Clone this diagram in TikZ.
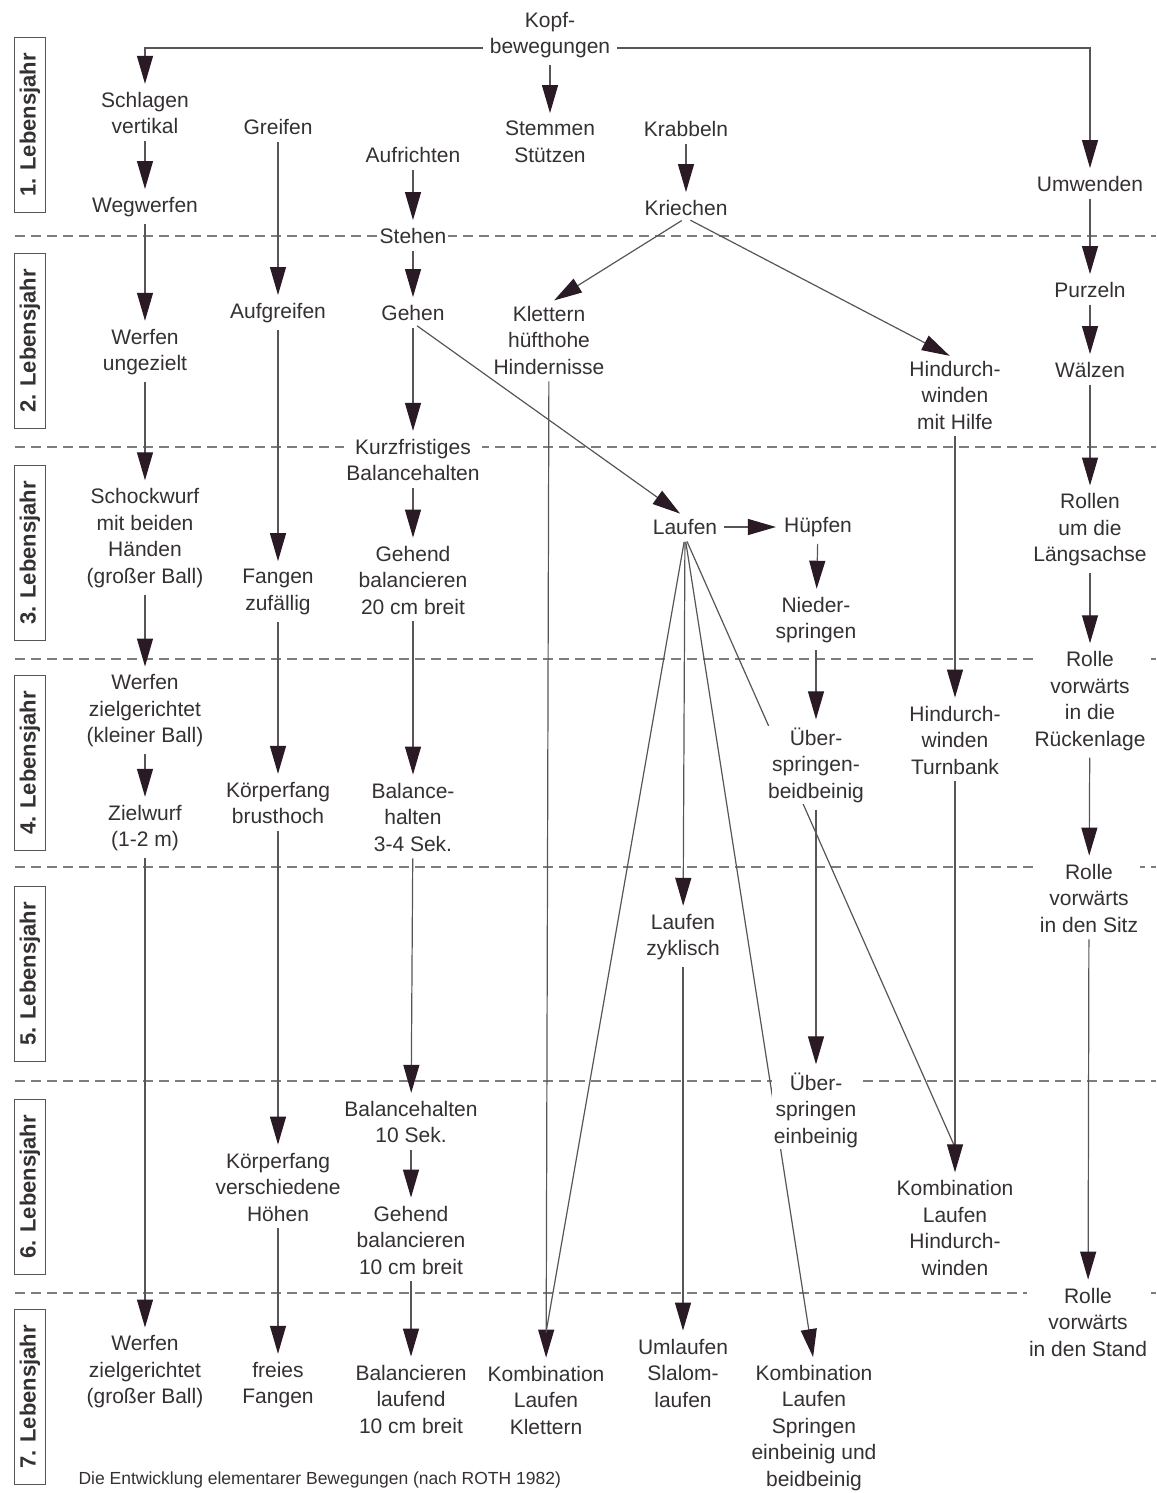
\documentclass[tikz,border=0pt]{standalone}
\usepackage{fontspec}
\setmainfont{Liberation Sans}
\usetikzlibrary{arrows.meta,backgrounds}

\definecolor{inkgray}{RGB}{52,48,52}
\definecolor{linegray}{RGB}{88,84,88}
\definecolor{headdark}{RGB}{42,26,38}
\definecolor{dashgray}{RGB}{125,125,125}

\newcommand{\movefont}{\fontsize{21}{26.5}\selectfont}

\tikzset{
    move/.style={align=center, font=\movefont, text=inkgray, fill=white, inner sep=2pt},
    yearbox/.style={draw=linegray, line width=1.3pt, rotate=90, minimum width=175pt,
        minimum height=31pt, inner sep=0pt, text=inkgray,
        font=\bfseries\fontsize{22}{26}\selectfont},
    devarrow/.style={draw=linegray, line width=1.2pt, shorten <=5pt, shorten >=6pt,
        -{Triangle[length=28pt,width=16pt,color=headdark]}},
    devline/.style={draw=linegray, line width=1.2pt, shorten <=5pt},
    yearline/.style={draw=dashgray, line width=1.2pt, dash pattern=on 10pt off 6pt},
}

\begin{document}
\begin{tikzpicture}[x=1pt, y=-1pt]
    \useasboundingbox (0,0) rectangle (1156,1493);

    \foreach \yr/\yy in {1/125,2/341,3/553,4/763,5/974,6/1187,7/1397}
        \node[yearbox] (year\yr) at (30,\yy) {\yr. Lebensjahr};

    \node[move] (kopf) at (550,35) {Kopf-\\bewegungen};

    \node[move] (schlagen) at (145,113) {Schlagen\\vertikal};
    \node[move] (wegwerfen) at (145,207) {Wegwerfen};
    \node[move] (werfenU) at (145,352) {Werfen\\ungezielt};
    \node[move] (schockwurf) at (145,538) {Schockwurf\\mit beiden\\Händen\\(großer Ball)};
    \node[move] (werfenZ) at (145,711) {Werfen\\zielgerichtet\\(kleiner Ball)};
    \node[move] (zielwurf) at (145,828) {Zielwurf\\(1-2 m)};
    \node[move] (werfenG) at (145,1372) {Werfen\\zielgerichtet\\(großer Ball)};

    \node[move] (greifen) at (278,127) {Greifen};
    \node[move] (aufgreifen) at (278,313) {Aufgreifen};
    \node[move] (fangen) at (278,592) {Fangen\\zufällig};
    \node[move] (koerperB) at (278,803) {Körperfang\\brusthoch};
    \node[move] (koerperV) at (278,1187) {Körperfang\\verschiedene\\Höhen};
    \node[move] (freies) at (278,1385) {freies\\Fangen};

    \node[move] (aufrichten) at (413,155) {Aufrichten};
    \node[move] (stehen) at (413,236) {Stehen};
    \node[move] (gehen) at (413,313) {Gehen};
    \node[move] (kurz) at (413,460) {Kurzfristiges\\Balancehalten};
    \node[move] (gehend20) at (413,580) {Gehend\\balancieren\\20 cm breit};
    \node[move] (balance34) at (413,817) {Balance-\\halten\\3-4 Sek.};
    \node[move] (balance10) at (411,1122) {Balancehalten\\10 Sek.};
    \node[move] (gehend10) at (411,1240) {Gehend\\balancieren\\10 cm breit};
    \node[move] (balLauf) at (411,1399) {Balancieren\\laufend\\10 cm breit};

    \node[move] (stemmen) at (550,142) {Stemmen\\Stützen};
    \node[move] (klettern) at (549,340) {Klettern\\hüfthohe\\Hindernisse};
    \node[move] (kombKlettern) at (546,1400) {Kombination\\Laufen\\Klettern};

    \node[move] (krabbeln) at (686,129) {Krabbeln};
    \node[move] (kriechen) at (686,208) {Kriechen};
    \node[move] (laufen) at (685,527) {Laufen};
    \node[move] (laufenZ) at (683,937) {Laufen\\zyklisch};
    \node[move] (umlaufen) at (683,1373) {Umlaufen\\Slalom-\\laufen};

    \node[move] (huepfen) at (818,527) {Hüpfen};
    \node[move] (nieder) at (816,620) {Nieder-\\springen};
    \node[move] (ueberB) at (816,765) {Über-\\springen-\\beidbeinig};
    \node[move] (ueberE) at (816,1110) {Über-\\springen\\einbeinig};
    \node[move] (kombSpringen) at (814,1428) {Kombination\\Laufen\\Springen\\einbeinig und\\beidbeinig};

    \node[move] (hindurchH) at (955,395) {Hindurch-\\winden\\mit Hilfe};
    \node[move] (hindurchT) at (955,740) {Hindurch-\\winden\\Turnbank};
    \node[move] (kombHindurch) at (955,1228) {Kombination\\Laufen\\Hindurch-\\winden};

    \node[move] (umwenden) at (1090,184) {Umwenden};
    \node[move] (purzeln) at (1090,290) {Purzeln};
    \node[move] (waelzen) at (1090,370) {Wälzen};
    \node[move] (rollen) at (1090,530) {Rollen\\um die\\Längsachse};
    \node[move] (rolleR) at (1090,701) {Rolle\\vorwärts\\in die\\Rückenlage};
    \node[move] (rolleS) at (1089,898) {Rolle\\vorwärts\\in den Sitz};
    \node[move] (rolleStand) at (1088,1322) {Rolle\\vorwärts\\in den Stand};

    \node[anchor=west, text=inkgray, font=\fontsize{17.5}{21}\selectfont] (caption) at (75,1480)
        {Die Entwicklung elementarer Bewegungen (nach ROTH 1982)};

    \begin{scope}[on background layer]
        \foreach \yy in {236,447,659,867,1081,1293}
            \draw[yearline] (15,\yy) -- (1156,\yy);

        \draw[devarrow] ([yshift=-13pt]kopf.west) -| (schlagen.north);
        \draw[devarrow] ([yshift=-13pt]kopf.east) -| (umwenden.north);
        \draw[devarrow] (kopf) -- (stemmen);

        \draw[devarrow] (schlagen) -- (wegwerfen);
        \draw[devarrow] (wegwerfen) -- (werfenU);
        \draw[devarrow] (werfenU) -- (schockwurf);
        \draw[devarrow] (schockwurf) -- (werfenZ);
        \draw[devarrow] (werfenZ) -- (zielwurf);
        \draw[devarrow] (zielwurf) -- (werfenG);

        \draw[devarrow] (greifen) -- (aufgreifen);
        \draw[devarrow] (aufgreifen) -- (fangen);
        \draw[devarrow] (fangen) -- (koerperB);
        \draw[devarrow] (koerperB) -- (koerperV);
        \draw[devarrow] (koerperV) -- (freies);

        \draw[devarrow] (aufrichten) -- (stehen);
        \draw[devarrow] (stehen) -- (gehen);
        \draw[devarrow] (gehen) -- (kurz);
        \draw[devarrow] (gehen.south) -- (laufen.north);
        \draw[devarrow] (kurz) -- (gehend20);
        \draw[devarrow] (gehend20) -- (balance34);
        \draw[devarrow] (balance34) -- (balance10);
        \draw[devarrow] (balance10) -- (gehend10);
        \draw[devarrow] (gehend10) -- (balLauf);

        \draw[devarrow] (krabbeln) -- (kriechen);
        \draw[devarrow] (kriechen.south) -- (klettern.north);
        \draw[devarrow] (kriechen.south) -- (hindurchH.north);
        \draw[devarrow] (klettern) -- (kombKlettern);

        \draw[devarrow] (laufen) -- (huepfen);
        \draw[devline] (laufen.south) -- ([yshift=31pt]kombKlettern.north);
        \draw[devarrow] (laufen) -- (laufenZ);
        \draw[devarrow] (laufen.south) -- (kombSpringen.north);
        \draw[devline] (laufen.south) -- ([yshift=31pt]kombHindurch.north);
        \draw[devarrow] (laufenZ) -- (umlaufen);

        \draw[devarrow] (huepfen) -- (nieder);
        \draw[devarrow] (nieder) -- (ueberB);
        \draw[devarrow] (ueberB) -- (ueberE);

        \draw[devarrow] (hindurchH) -- (hindurchT);
        \draw[devarrow] (hindurchT) -- (kombHindurch);

        \draw[devarrow] (umwenden) -- (purzeln);
        \draw[devarrow] (purzeln) -- (waelzen);
        \draw[devarrow] (waelzen) -- (rollen);
        \draw[devarrow] (rollen) -- (rolleR);
        \draw[devarrow] (rolleR) -- (rolleS);
        \draw[devarrow] (rolleS) -- (rolleStand);
    \end{scope}
\end{tikzpicture}
\end{document}
